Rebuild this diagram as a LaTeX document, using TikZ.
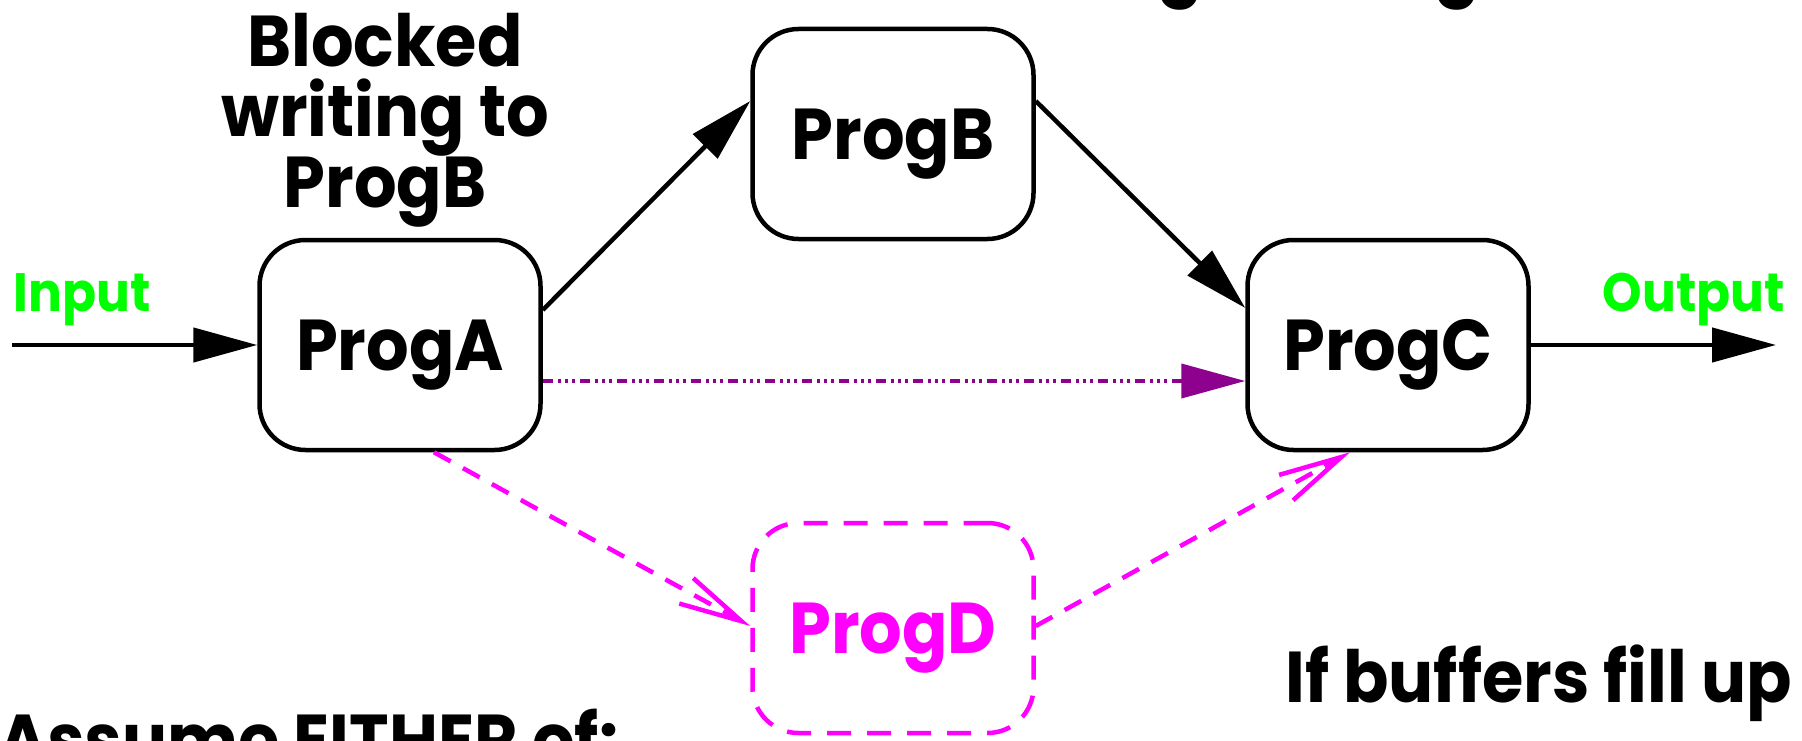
\documentclass[tikz,border=0pt]{standalone}
\usepackage{fontspec}
\setmainfont{Poppins}[FakeStretch=0.93]
\usetikzlibrary{arrows.meta}
\definecolor{pgreen}{HTML}{00FF00}
\definecolor{pmag}{HTML}{FF00FF}
\definecolor{ppurp}{HTML}{8E008E}
\begin{document}
\begin{tikzpicture}[x=1pt,y=-1pt,
  big/.style={font=\fontsize{72}{70}\selectfont\bfseries},
  small/.style={font=\fontsize{54}{54}\selectfont\bfseries},
  prog/.style={draw, line width=4.5pt, rounded corners=46pt,
    minimum width=281pt, minimum height=210pt, inner sep=0pt, big,
    text height=51pt, text depth=0pt},
  conn/.style={line width=4.5pt, -{Triangle[length=64pt,width=34pt]}},
  purpconn/.style={ppurp, line width=4pt,
    dash pattern=on 10pt off 5pt on 3pt off 4pt on 3pt off 4pt on 3pt off 5pt,
    -{Triangle[length=64pt,width=34pt]}},
  magconn/.style={pmag, line width=4.5pt, dash pattern=on 19pt off 14pt,
    -{Straight Barb[length=63pt,width=29pt]}},
  label/.style={inner sep=0pt, anchor=base}
]
\useasboundingbox (0,0) rectangle (1802,741);
\clip (0,0) rectangle (1802,741);
\fill[white] (0,0) rectangle (1802,741);

% clipped fragments of a line above the picture
\node[label, big] (fragA) at (1180,-9) {g};
\node[label, big] (fragB) at (1457,-9) {g};

\node[prog] (ProgA) at (400,345) {ProgA};
\node[prog] (ProgB) at (893,134) {ProgB};
\node[prog] (ProgC) at (1388,345) {ProgC};
\node[prog, pmag, text=pmag, dash pattern=on 24pt off 16pt] (ProgD) at (893,628) {ProgD};

\node[big, inner sep=0pt, anchor=north, align=center] (blocked) at (385,13)
  {Blocked\\writing to\\ProgB};

\node[label, small, text=pgreen] (inlbl) at (82,311) {Input};
\node[label, small, text=pgreen] (outlbl) at (1694,311) {Output};

\node[label, big, anchor=base east] (ifbuf) at (1792,702) {If buffers fill up};
\node[label, big, anchor=base west] (assume) at (-2,765) {Assume EITHER of:};

\coordinate (instart) at (12,345);
\coordinate (outend) at (1776,345);

\draw[conn] (instart) -- (ProgA.west);
\draw[conn] (ProgC.east) -- (outend);
\draw[conn] ([yshift=35pt]ProgA.east) -- ([yshift=33pt]ProgB.west);
\draw[conn] ([yshift=33pt]ProgB.east) -- ([yshift=37pt]ProgC.west);
\draw[purpconn] ([yshift=-36pt]ProgA.east) -- ([yshift=-36pt]ProgC.west);
\draw[magconn] ([xshift=34pt]ProgA.south) -- ([yshift=2pt]ProgD.west);
\draw[magconn] ([yshift=2pt]ProgD.east) -- ([xshift=-38pt]ProgC.south);
\end{tikzpicture}
\end{document}
